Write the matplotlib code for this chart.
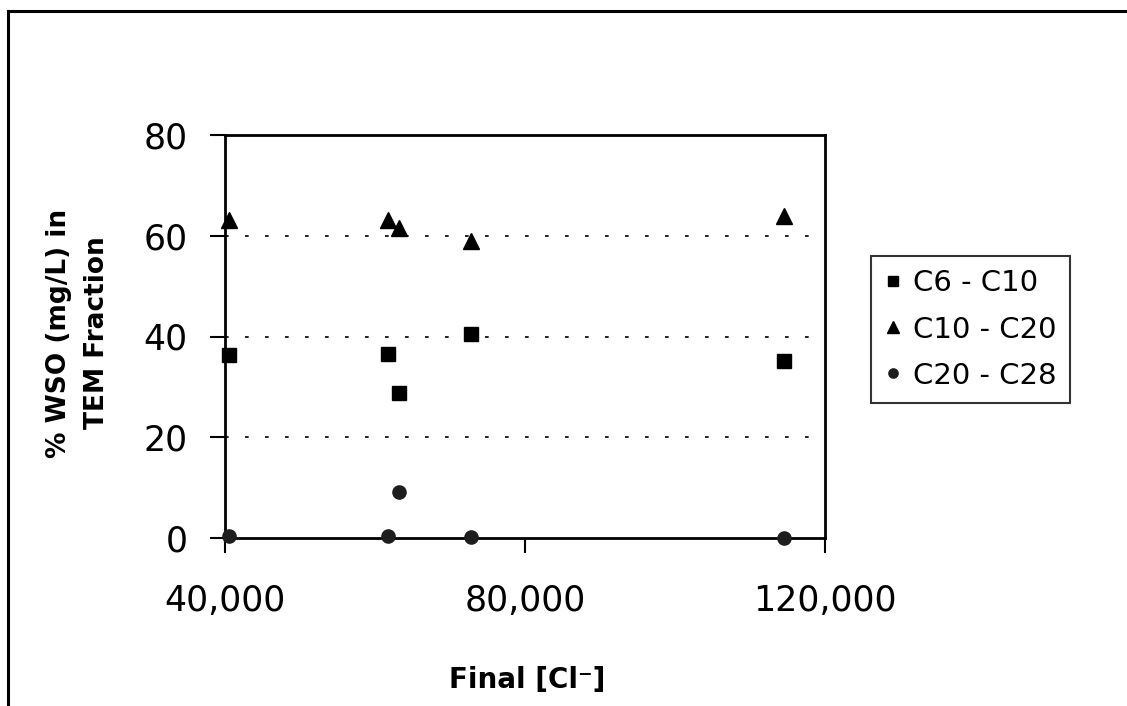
import matplotlib
matplotlib.use("Agg")
import matplotlib.pyplot as plt
from matplotlib.lines import Line2D
from matplotlib.ticker import FuncFormatter

# ---- data ----
final_cl = [40500, 61700, 63200, 72800, 114500]
c6_c10 = [36.3, 36.6, 28.7, 40.5, 35.2]
c10_c20 = [63.2, 63.2, 61.6, 58.9, 64.0]
c20_c28 = [0.4, 0.3, 9.1, 0.1, 0.0]
series_labels = ["C6 - C10", "C10 - C20", "C20 - C28"]
x_ticks = [40000, 80000, 120000]
y_ticks = [0, 20, 40, 60, 80]

plt.rcParams['font.family'] = ['DejaVu Sans']

W, H = 1127, 706
fig = plt.figure(figsize=(W / 100, H / 100), dpi=100)
fig.patch.set_facecolor('white')

ax = fig.add_axes([225 / W, 1 - 538 / H, 600 / W, (538 - 135) / H])
ax.set_xlim(40000, 120000)
ax.set_ylim(0, 80)

ax.plot(final_cl, c6_c10, linestyle='none', marker='s', markersize=10.5,
        color='black', label=series_labels[0], clip_on=False, zorder=5)
ax.plot(final_cl, c10_c20, linestyle='none', marker='^', markersize=11.5,
        color='black', label=series_labels[1], clip_on=False, zorder=5)
ax.plot(final_cl, c20_c28, linestyle='none', marker='o', markersize=9.5,
        color='#1e1e1e', label=series_labels[2], clip_on=False, zorder=5)

for yv in [20, 40, 60]:
    ax.axhline(yv, color='black', linewidth=1.2, linestyle=(0, (2.2, 9.8)), zorder=1)

for s in ax.spines.values():
    s.set_linewidth(2.0)
    s.set_color('black')

ax.set_xticks(x_ticks)
ax.set_yticks(y_ticks)
ax.xaxis.set_major_formatter(FuncFormatter(lambda v, p: f"{int(v):,}"))
ax.tick_params(axis='both', direction='out', length=11, width=1.5,
               labelsize=25, colors='black')
ax.tick_params(axis='y', pad=16)
ax.tick_params(axis='x', pad=22)

# axis titles
fig.text(78 / W, 1 - 333 / H, "% WSO (mg/L) in\nTEM Fraction", rotation=90,
         ha='center', va='center', fontsize=19, fontweight='bold',
         multialignment='center', linespacing=1.55)
fig.text(527 / W, 1 - 680 / H, "Final [Cl\u207b]", ha='center', va='center',
         fontsize=20, fontweight='bold')

# legend
leg = fig.legend(loc='center', bbox_to_anchor=((869 + 1072) / 2 / W, 1 - (256 + 403) / 2 / H),
                 fontsize=21, frameon=True, fancybox=False, edgecolor='black',
                 markerscale=0.7, handlelength=0.6, handletextpad=0.4,
                 labelspacing=0.62, borderpad=0.45)
leg.get_frame().set_linewidth(1.5)

# outer frame (top and left)
fig.add_artist(Line2D([8 / W, 1.0], [1 - 11 / H, 1 - 11 / H], transform=fig.transFigure,
                      color='black', linewidth=2.2))
fig.add_artist(Line2D([8 / W, 8 / W], [0, 1 - 11 / H], transform=fig.transFigure,
                      color='black', linewidth=2.2))

fig.savefig("out.png", dpi=100, facecolor='white')
